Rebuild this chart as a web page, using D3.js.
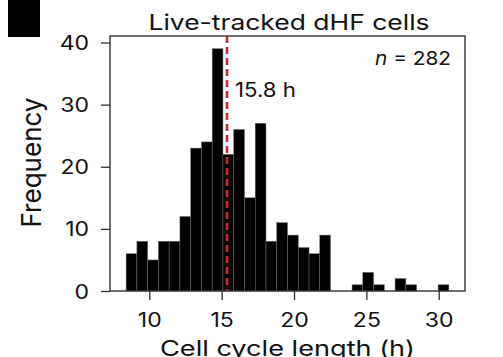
<!DOCTYPE html>
<html>
<head>
<meta charset="utf-8">
<script src="https://cdn.jsdelivr.net/npm/d3@7"></script>
<style>
  html, body { margin: 0; padding: 0; background: #fff; }
  svg { display: block; }
  text { font-family: Inter, "Liberation Sans", Arial, sans-serif; fill: #111; font-weight: 400; }
</style>
</head>
<body>
<svg id="chart" width="503" height="357"></svg>
<script>
// ---- data ----
const counts = [6, 8, 5, 8, 8, 12, 23, 24, 39, 22, 26, 15, 27, 8, 11, 9, 7, 6, 9, 0, 0, 1, 3, 1, 0, 2, 1, 0, 0, 1];
const binRange = [8.4, 30.7];
const xTicks = [10, 15, 20, 25, 30];
const yTicks = [0, 10, 20, 30, 40];
const medianLine = 15.37;
const medianLabel = "15.8 h";
const nLabel = "282";
const titleText = "Live-tracked dHF cells";
const xTitle = "Cell cycle length (h)";
const yTitle = "Frequency";

// ---- layout ----
const L = 110, R = 465, T = 36, B = 291;
const SX = 1.18; // horizontal stretch of the tick lettering in the reference

const svg = d3.select("#chart");
const nb = counts.length;
const bw = (binRange[1] - binRange[0]) / nb;
const bins = counts.map((c, i) => ({ x0: binRange[0] + i * bw, x1: binRange[0] + (i + 1) * bw, c }));

const pad = (binRange[1] - binRange[0]) * 0.05;
const x = d3.scaleLinear().domain([binRange[0] - pad, binRange[1] + pad]).range([L, R]);
const y = d3.scaleLinear().domain([0, 41.05]).range([B, T]);

// panel marker square
svg.append("rect").attr("x", 8).attr("y", 0).attr("width", 32).attr("height", 37).attr("fill", "#000");

// bars
svg.append("g").selectAll("rect").data(bins.filter(d => d.c > 0)).join("rect")
  .attr("x", d => x(d.x0))
  .attr("width", d => x(d.x1) - x(d.x0))
  .attr("y", d => y(d.c))
  .attr("height", d => y(0) - y(d.c))
  .attr("fill", "#000")
  .attr("stroke", "#6a6a6a")
  .attr("stroke-width", 0.5);

// median dashed line
svg.append("line")
  .attr("x1", x(medianLine)).attr("x2", x(medianLine))
  .attr("y1", T).attr("y2", B)
  .attr("stroke", "#d62728").attr("stroke-width", 2.6)
  .attr("stroke-dasharray", "7,4");

// frame
svg.append("rect").attr("x", L).attr("y", T).attr("width", R - L).attr("height", B - T)
  .attr("fill", "none").attr("stroke", "#333").attr("stroke-width", 1.4);

// axes
const gy = svg.append("g").attr("transform", `translate(${L},0)`)
  .call(d3.axisLeft(y).tickValues(yTicks).tickSize(9).tickFormat(d3.format("d")));
const gx = svg.append("g").attr("transform", `translate(0,${B})`)
  .call(d3.axisBottom(x).tickValues(xTicks).tickSize(9).tickFormat(d3.format("d")));
[gy, gx].forEach(g => {
  g.select(".domain").remove();
  g.selectAll(".tick line").attr("stroke", "#333").attr("stroke-width", 1.3);
  g.selectAll(".tick text").attr("fill", "#111").attr("font-size", 19.5)
    .attr("font-family", "Inter, 'Liberation Sans', Arial, sans-serif")
    .attr("x", null).attr("y", null).attr("dy", null);
});
gy.selectAll(".tick text").attr("text-anchor", "end")
  .attr("transform", `translate(-21,7) scale(${SX},1)`);
gx.selectAll(".tick text").attr("text-anchor", "middle")
  .attr("transform", `translate(0,36) scale(${SX},1)`);

function label(txt, px, py, size, anchor, len, rot) {
  const t = svg.append("text").text(txt)
    .attr("font-size", size).attr("text-anchor", anchor)
    .attr("transform", `translate(${px},${py})` + (rot ? ` rotate(${rot})` : ""));
  if (len) t.attr("textLength", len).attr("lengthAdjust", "spacingAndGlyphs");
  return t;
}

// title
label(titleText, 289, 29.5, 21.5, "middle", 281);
// axis titles
label(xTitle, (L + R) / 2, 355.5, 21.5, "middle", 255);
label(yTitle, 41, 162.5, 27, "middle", 130, -90);

// annotations
const nText = svg.append("text").attr("font-size", 18.5).attr("text-anchor", "start")
  .attr("transform", "translate(375,64.5)")
  .attr("textLength", 76).attr("lengthAdjust", "spacingAndGlyphs");
nText.append("tspan").attr("font-style", "italic").text("n");
nText.append("tspan").text(" = " + nLabel);

label(medianLabel, 235, 97, 19.5, "start", 61);
</script>
</body>
</html>
